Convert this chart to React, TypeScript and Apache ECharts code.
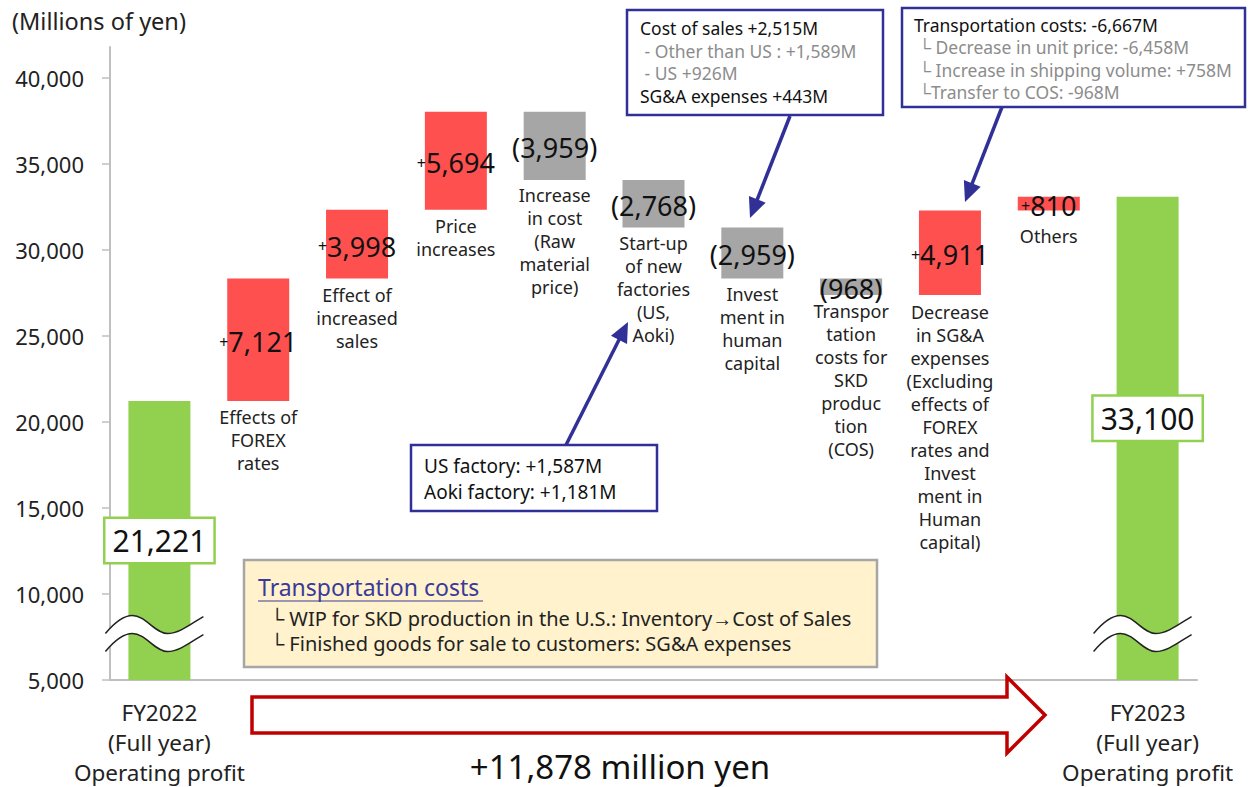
import React, { useEffect, useRef } from "react";
import * as echarts from "echarts";

// ---------- data ----------
const categories = [
  "FY2022",
  "FOREX",
  "Sales",
  "Price",
  "RawCost",
  "StartUp",
  "HumanCapital",
  "TransportCOS",
  "SGA",
  "Others",
  "FY2023",
];
const axisLabels = [
  "FY2022\n(Full year)\nOperating profit",
  "", "", "", "", "", "", "", "", "",
  "FY2023\n(Full year)\nOperating profit",
];
const barLabels = [
  "",
  "Effects of\nFOREX\nrates",
  "Effect of\nincreased\nsales",
  "Price\nincreases",
  "Increase\nin cost\n(Raw\nmaterial\nprice)",
  "Start-up\nof new\nfactories\n(US,\nAoki)",
  "Invest\nment in\nhuman\ncapital",
  "Transpor\ntation\ncosts for\nSKD\nproduc\ntion\n(COS)",
  "Decrease\nin SG&A\nexpenses\n(Excluding\neffects of\nFOREX\nrates and\nInvest\nment in\nHuman\ncapital)",
  "Others",
  "",
];
const values = [21221, 7121, 3998, 5694, -3959, -2768, -2959, -968, 4911, 810, 33100];
const isTotal = [true, false, false, false, false, false, false, false, false, false, true];
const yTicks = [5000, 10000, 15000, 20000, 25000, 30000, 35000, 40000];
const Y_MIN = 5000;
const Y_MAX = 41800;
const BREAK_AT = 7700;
const totalChange = "+11,878 million yen";

const box1Lines = [
  { t: "Cost of sales +2,515M", g: false },
  { t: " - Other than US : +1,589M", g: true },
  { t: " - US +926M", g: true },
  { t: "SG&A expenses +443M", g: false },
];
const box2Lines = [
  { t: "Transportation costs: -6,667M", g: false },
  { t: " └ Decrease in unit price: -6,458M", g: true },
  { t: " └ Increase in shipping volume: +758M", g: true },
  { t: " └Transfer to COS: -968M", g: true },
];
const box3Lines = ["US factory: +1,587M", "Aoki factory: +1,181M"];
const noteTitle = "Transportation costs";
const noteLines = [
  "└ WIP for SKD production in the U.S.: Inventory→Cost of Sales",
  "└ Finished goods for sale to customers: SG&A expenses",
];

// ---------- helpers ----------
const FONT = '"Noto Sans", "Open Sans", sans-serif';
const RED = "#FF5050";
const GREY = "#A6A6A6";
const GREEN = "#92D050";
const NAVY = "#303096";

const fmt = (v: number) => Math.abs(v).toLocaleString("en-US");

function buildRows() {
  const rows: any[] = [];
  let run = 0;
  values.forEach((v, i) => {
    if (isTotal[i]) {
      rows.push([i, Y_MIN, v, v, 1]);
      run = v;
    } else {
      const a = run;
      const b = run + v;
      rows.push([i, Math.min(a, b), Math.max(a, b), v, 0]);
      run = b;
    }
  });
  return rows;
}

function arrow(x1: number, y1: number, x2: number, y2: number, color: string) {
  const dx = x2 - x1;
  const dy = y2 - y1;
  const len = Math.sqrt(dx * dx + dy * dy);
  const ux = dx / len;
  const uy = dy / len;
  const hl = 20;
  const hw = 9;
  const bx = x2 - ux * hl;
  const by = y2 - uy * hl;
  const px = -uy;
  const py = ux;
  return [
    {
      type: "line",
      shape: { x1, y1, x2: bx + ux * 2, y2: by + uy * 2 },
      style: { stroke: color, lineWidth: 3.5 },
      z: 10,
    },
    {
      type: "polygon",
      shape: {
        points: [
          [x2, y2],
          [bx + px * hw, by + py * hw],
          [bx - px * hw, by - py * hw],
        ],
      },
      style: { fill: color },
      z: 10,
    },
  ];
}

export default function App() {
  const ref = useRef<HTMLDivElement>(null);

  useEffect(() => {
    document.body.style.margin = "0";
    const chart = echarts.init(ref.current!, null, { renderer: "svg" });
    const rows = buildRows();

    const renderItem = (params: any, api: any) => {
      const idx = api.value(0);
      const low = api.value(1);
      const high = api.value(2);
      const v = api.value(3);
      const total = api.value(4) === 1;
      const pTop = api.coord([idx, high]);
      const pBot = api.coord([idx, low]);
      const bw = 62;
      const cx = pTop[0];
      const children: any[] = [
        {
          type: "rect",
          shape: { x: cx - bw / 2, y: pTop[1], width: bw, height: pBot[1] - pTop[1] },
          style: { fill: total ? GREEN : v >= 0 ? RED : GREY },
        },
      ];
      if (total) {
        const y0 = api.coord([idx, BREAK_AT])[1];
        const up = (d: number) =>
          `M${cx - 54},${y0 + d} C${cx - 44},${y0 + d - 12} ${cx - 36},${y0 + d - 18} ${cx - 27},${y0 + d - 18} C${cx - 14},${y0 + d - 18} ${cx - 4},${y0 + d} ${cx + 8},${y0 + d} C${cx + 20},${y0 + d} ${cx + 32},${y0 + d - 10} ${cx + 44},${y0 + d - 17}`;
        const fillPath =
          up(0) +
          ` L${cx + 44},${y0 + 1} C${cx + 32},${y0 + 8} ${cx + 20},${y0 + 18} ${cx + 8},${y0 + 18} C${cx - 4},${y0 + 18} ${cx - 14},${y0} ${cx - 27},${y0} C${cx - 36},${y0} ${cx - 44},${y0 + 6} ${cx - 54},${y0 + 18} Z`;
        children.push({
          type: "path",
          shape: { pathData: fillPath },
          style: { fill: "#ffffff", stroke: null },
        });
        children.push({
          type: "path",
          shape: { pathData: up(0) },
          style: { fill: null, stroke: "#222", lineWidth: 1.5 },
        });
        children.push({
          type: "path",
          shape: { pathData: up(18) },
          style: { fill: null, stroke: "#222", lineWidth: 1.5 },
        });
        const midY = (pTop[1] + pBot[1]) / 2 + (idx === values.length - 1 ? -20 : 0);
        children.push({
          type: "text",
          x: cx,
          y: midY,
          style: {
            text: fmt(v),
            fontSize: 30,
            fontFamily: FONT,
            fill: "#111",
            align: "center",
            verticalAlign: "middle",
            backgroundColor: "#fff",
            borderColor: GREEN,
            borderWidth: 2.5,
            padding: [8, 7, 5, 7],
          },
          z2: 20,
        });
      } else {
        const midY = (pTop[1] + pBot[1]) / 2;
        children.push({
          type: "text",
          x: cx,
          y: midY + 2,
          style: {
            text: v >= 0 ? `{s|+}{n|${fmt(v)}}` : `{n|(${fmt(v)})}`,
            rich: {
              s: { fontSize: 16, fontFamily: FONT, fill: "#111", verticalAlign: "middle" },
              n: { fontSize: 27, fontFamily: FONT, fill: "#111", verticalAlign: "middle" },
            },
            align: "center",
            verticalAlign: "middle",
          },
          z2: 20,
        });
        children.push({
          type: "text",
          x: cx,
          y: v >= 0 ? Math.max(pBot[1] + 5, midY + 21) : pBot[1] + 4,
          style: {
            text: barLabels[idx],
            fontSize: 18,
            fontFamily: FONT,
            lineHeight: 23,
            fill: "#222",
            align: "center",
            verticalAlign: "top",
          },
        });
      }
      return { type: "group", children };
    };

    const graphic: any[] = [
      {
        type: "text",
        left: 12,
        top: 9,
        style: { text: "(Millions of yen)", fontSize: 23.5, fontFamily: FONT, fill: "#222" },
      },
      // box 1
      {
        type: "rect",
        shape: { x: 627, y: 10, width: 256, height: 105 },
        style: { fill: "#fff", stroke: NAVY, lineWidth: 2.5 },
        z: 5,
      },
      ...box1Lines.map((l, i) => ({
        type: "text",
        x: 640,
        y: 28 + i * 22.7,
        style: {
          text: l.t,
          fontSize: 17.5,
          fontFamily: FONT,
          fill: l.g ? "#8C8C8C" : "#111",
          verticalAlign: "middle",
        },
        z: 6,
      })),
      ...arrow(790, 116, 750, 218, NAVY),
      // box 2
      {
        type: "rect",
        shape: { x: 902, y: 8, width: 343, height: 99 },
        style: { fill: "#fff", stroke: NAVY, lineWidth: 2.5 },
        z: 5,
      },
      ...box2Lines.map((l, i) => ({
        type: "text",
        x: 914,
        y: 25 + i * 22.3,
        style: {
          text: l.t,
          fontSize: 17.5,
          fontFamily: FONT,
          fill: l.g ? "#8C8C8C" : "#111",
          verticalAlign: "middle",
        },
        z: 6,
      })),
      ...arrow(1002, 107, 965, 202, NAVY),
      // box 3
      {
        type: "rect",
        shape: { x: 411, y: 445, width: 246, height: 66 },
        style: { fill: "#fff", stroke: NAVY, lineWidth: 2.5 },
        z: 5,
      },
      ...box3Lines.map((t, i) => ({
        type: "text",
        x: 424,
        y: 466 + i * 26,
        style: { text: t, fontSize: 19, fontFamily: FONT, fill: "#111", verticalAlign: "middle" },
        z: 6,
      })),
      ...arrow(566, 445, 628, 322, NAVY),
      // note box
      {
        type: "rect",
        shape: { x: 244, y: 560, width: 633, height: 107 },
        style: { fill: "#FFF2CC", stroke: "#A6A6A6", lineWidth: 2.5 },
        z: 5,
      },
      {
        type: "text",
        x: 258,
        y: 587,
        style: { text: noteTitle, fontSize: 23, fontFamily: FONT, fill: "#3A3A9A", verticalAlign: "middle" },
        z: 6,
      },
      {
        type: "line",
        shape: { x1: 258, y1: 601, x2: 483, y2: 601 },
        style: { stroke: "#3A3A9A", lineWidth: 1.2 },
        z: 6,
      },
      ...noteLines.map((t, i) => ({
        type: "text",
        x: 270,
        y: 618 + i * 25,
        style: { text: t, fontSize: 20, fontFamily: FONT, fill: "#222", verticalAlign: "middle" },
        z: 6,
      })),
      // big arrow
      {
        type: "polygon",
        shape: {
          points: [
            [252, 697],
            [1007, 697],
            [1007, 677],
            [1045, 715],
            [1007, 753],
            [1007, 733],
            [252, 733],
          ],
        },
        style: { fill: "#fff", stroke: "#C00000", lineWidth: 3.5 },
        z: 5,
      },
      {
        type: "text",
        x: 620,
        y: 766,
        style: {
          text: totalChange,
          fontSize: 33,
          fontFamily: FONT,
          fill: "#111",
          align: "center",
          verticalAlign: "middle",
        },
        z: 6,
      },
    ];

    chart.setOption({
      animation: false,
      grid: { left: 110, right: 53, top: 47, bottom: 107, outerBoundsMode: "none", containLabel: false },
      xAxis: {
        type: "category",
        data: categories,
        axisLine: { lineStyle: { color: "#BFBFBF", width: 2 } },
        axisTick: { show: false },
        axisLabel: {
          interval: 0,
          formatter: (_: string, i: number) => axisLabels[i],
          fontSize: 22.5,
          lineHeight: 30,
          fontFamily: FONT,
          color: "#222",
          margin: 17,
        },
      },
      yAxis: {
        type: "value",
        min: Y_MIN,
        max: Y_MAX,
        interval: 5000,
        splitLine: { show: false },
        axisLine: { show: true, lineStyle: { color: "#BFBFBF", width: 2 } },
        axisTick: { show: true, length: 8, lineStyle: { color: "#BFBFBF", width: 1.5 }, customValues: yTicks },
        axisLabel: {
          customValues: yTicks,
          formatter: (v: number) => v.toLocaleString("en-US"),
          fontSize: 22,
          fontFamily: FONT,
          color: "#222",
          margin: 26,
        },
      },
      series: [
        {
          type: "custom",
          renderItem,
          data: rows,
          encode: { x: 0, y: [1, 2] },
          z: 3,
        },
      ],
      graphic,
    });

    return () => chart.dispose();
  }, []);

  return (
    <div
      ref={ref}
      style={{ position: "fixed", left: 0, top: 0, width: 1250, height: 787, background: "#fff" }}
    />
  );
}
